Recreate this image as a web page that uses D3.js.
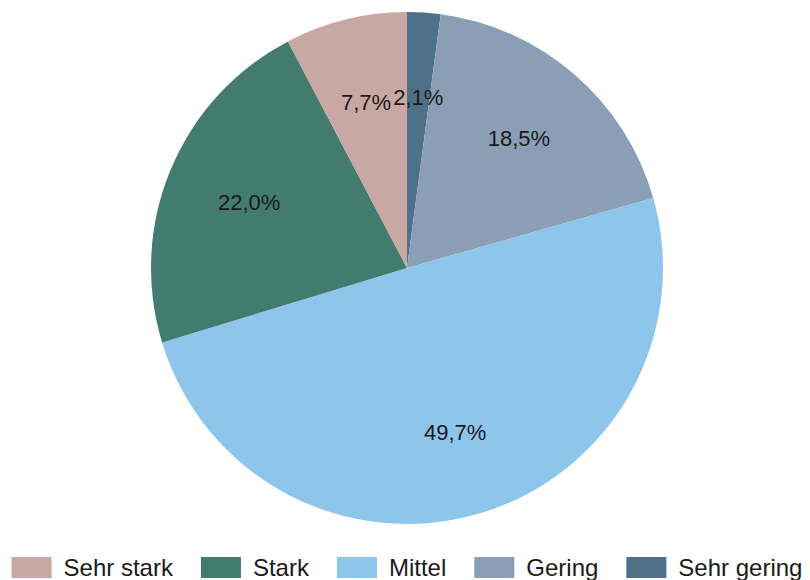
<!DOCTYPE html>
<html>
<head>
<meta charset="utf-8">
<script src="https://cdn.jsdelivr.net/npm/d3@7"></script>
<style>
  html, body { margin: 0; padding: 0; background: #ffffff; }
  svg { display: block; font-family: "Liberation Sans", Arial, sans-serif; }
</style>
</head>
<body>
<svg id="chart" width="810" height="580"></svg>
<script>
// Categories in legend order
const categories = ["Sehr stark", "Stark", "Mittel", "Gering", "Sehr gering"];
// Share of responses, percent
const values = [7.7, 22.0, 49.7, 18.5, 2.1];
const colors = ["#c9a8a3", "#437b6f", "#8ec5eb", "#8a9fb5", "#4f7089"];

const svg = d3.select("#chart");
const cx = 407, cy = 268, radius = 256;

const data = categories.map((c, i) => ({ name: c, value: values[i], color: colors[i] }));

// Slices run clockwise from 12 o'clock starting with the last category
const pie = d3.pie()
  .value(d => d.value)
  .sort(null)
  .startAngle(0)
  .endAngle(2 * Math.PI);

const arcs = pie(data.slice().reverse());
const arc = d3.arc().innerRadius(0).outerRadius(radius);

const fmt = v => d3.format(".1f")(v).replace(".", ",") + "%";

const g = svg.append("g").attr("transform", `translate(${cx},${cy})`);

g.selectAll("path.slice")
  .data(arcs)
  .join("path")
  .attr("class", "slice")
  .attr("d", arc)
  .attr("fill", d => d.data.color);

// Labels at 2/3 of the radius along each slice's mid-angle
const labelR = radius * 0.668;
g.selectAll("text.lbl")
  .data(arcs)
  .join("text")
  .attr("class", "lbl")
  .attr("transform", d => {
    const a = (d.startAngle + d.endAngle) / 2;
    return `translate(${labelR * Math.sin(a)},${-labelR * Math.cos(a)})`;
  })
  .attr("text-anchor", "middle")
  .attr("dy", "0.35em")
  .attr("font-size", 22)
  .attr("fill", "#1a1a1a")
  .text(d => fmt(d.data.value));

// Legend
const legend = svg.append("g");
const swW = 40, swH = 21, gapText = 12, gapItem = 28, fontSize = 24;
const items = legend.selectAll("g.item").data(data).join("g").attr("class", "item");
items.append("rect")
  .attr("width", swW).attr("height", swH)
  .attr("y", 557)
  .attr("fill", d => d.color);
items.append("text")
  .attr("x", swW + gapText)
  .attr("y", 576)
  .attr("font-size", fontSize)
  .attr("fill", "#1a1a1a")
  .text(d => d.name);

let x = 0;
const offsets = [];
items.each(function () {
  offsets.push(x);
  const tw = d3.select(this).select("text").node().getComputedTextLength();
  x += swW + gapText + tw + gapItem;
});
const total = x - gapItem;
const startX = cx - total / 2;
items.attr("transform", (d, i) => `translate(${startX + offsets[i]},0)`);
</script>
</body>
</html>
